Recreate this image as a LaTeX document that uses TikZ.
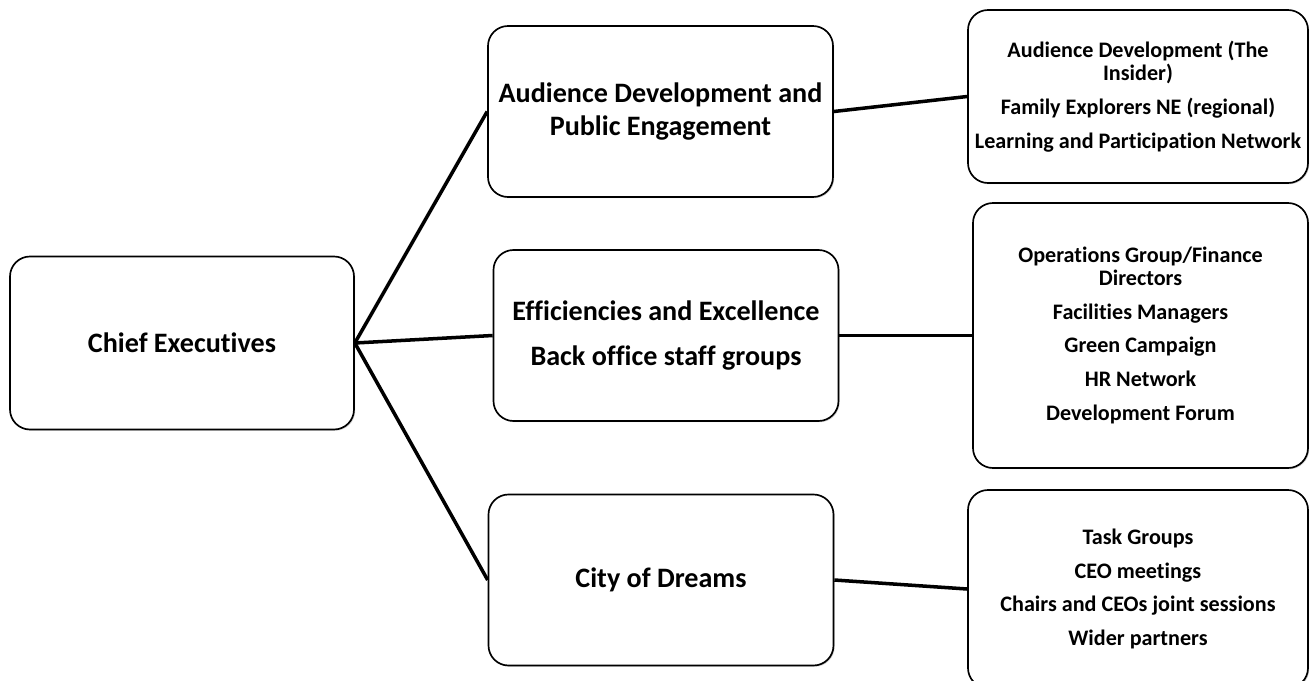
\documentclass[tikz,border=0pt]{standalone}
\usepackage{fontspec}
\setmainfont[Ligatures=NoCommon]{Carlito}
\usepackage{tikz}
\usetikzlibrary{shapes, arrows, calc, shadows}
\tikzstyle{chief} = [rectangle, draw, rounded corners=0.4cm, fill=white,
    line width=0.95pt, minimum width=6.88cm, minimum height=3.46cm,
    align=center, font=\fontsize{16}{18.8}\selectfont\bfseries,
    drop shadow={shadow xshift=0.7pt, shadow yshift=-0.7pt, opacity=0.35}]
\tikzstyle{theme} = [chief, minimum width=6.9cm, minimum height=3.42cm]
\tikzstyle{group} = [chief, minimum width=6.8cm, minimum height=3.46cm,
    font=\fontsize{12.6}{13}\selectfont\bfseries]
\tikzstyle{line} = [draw, line width=2pt]

\begin{document}
\begin{tikzpicture}[node distance = 9.5cm]
    \useasboundingbox (0,0) rectangle (26.2,-13.62);
    % Nodes
    \node [chief] (chief) at (3.64,-6.86) {Chief Executives};
    \node [theme, right of=chief, node distance=9.57cm, yshift=4.63cm] (audience)
        {Audience Development and\\Public Engagement};
    \node [theme, right of=chief, node distance=9.68cm, yshift=0.15cm] (efficiency)
        {Efficiencies and Excellence\\[6.8pt]Back office staff groups};
    \node [theme, right of=chief, node distance=9.58cm, yshift=-4.74cm] (dreams)
        {City of Dreams};

    % Right
    \node [group, right of=audience, node distance=9.55cm, yshift=0.3cm] (audgroups)
        {Audience Development (The\\Insider)\\[6.3pt]
         Family Explorers NE (regional)\\[6.3pt]
         Learning and Participation Network};
    \node [group, minimum width=6.7cm, minimum height=5.3cm,
           right of=efficiency, node distance=9.49cm] (effgroups)
        {Operations Group/Finance\\Directors\\[6.3pt]
         Facilities Managers\\[6.3pt]
         Green Campaign\\[6.3pt]
         HR Network\\[6.3pt]
         Development Forum};
    \node [group, minimum height=3.96cm, right of=dreams, node distance=9.54cm,
           yshift=-0.18cm] (dreamgroups)
        {Task Groups\\[6.3pt]
         CEO meetings\\[6.3pt]
         Chairs and CEOs joint sessions\\[6.3pt]
         Wider partners};

    % Edges
    \path [line] (chief.east) -- (audience.west);
    \path [line] (chief.east) -- (efficiency.west);
    \path [line] (chief.east) -- (dreams.west);
    \path [line] (audience.east) -- (audgroups.west);
    \path [line] (efficiency.east) -- (effgroups.west);
    \path [line] (dreams.east) -- (dreamgroups.west);
\end{tikzpicture}
\end{document}
